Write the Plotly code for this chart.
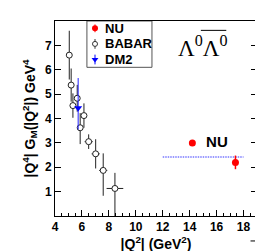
import plotly.graph_objects as go

# ---- data ----
babar_q2 = [5.06, 5.20, 5.33, 5.65, 5.87, 6.15, 6.50, 7.02, 7.58, 8.45]
babar_g = [6.60, 5.37, 4.53, 4.83, 3.62, 4.12, 3.05, 2.55, 1.87, 1.13]
babar_ey_plus = [1.00, 0.68, 0.50, 0.55, 0.60, 0.50, 0.30, 0.60, 0.70, 0.64]
babar_ey_minus = [1.00, 0.68, 0.50, 0.55, 0.67, 0.50, 0.30, 0.60, 1.04, 1.13]
babar_ex = [0.12, 0.12, 0.12, 0.12, 0.12, 0.12, 0.30, 0.30, 0.30, 0.62]

dm2_q2 = [5.72]
dm2_g = [4.43]
dm2_ey_plus = [1.23]
dm2_ey_minus = [0.88]

nu_q2 = [17.4]
nu_g = [2.20]
nu_ey = [0.28]

nu_label_q2 = [14.2]
nu_label_g = [3.0]

nu_line_q2 = [12.0, 18.0]
nu_line_g = [2.42, 2.42]

legend_labels = ["NU", "BABAR", "DM2"]
x_ticks = [4, 6, 8, 10, 12, 14, 16, 18]
y_ticks = [1, 2, 3, 4, 5, 6, 7]

FONT = "Liberation Sans"

fig = go.Figure()

fig.add_trace(go.Scatter(
    x=nu_line_q2, y=nu_line_g, mode="lines",
    line=dict(color="#7777ff", width=1.5, dash="1.5px,1px"),
    showlegend=False, hoverinfo="skip"))

fig.add_trace(go.Scatter(
    x=babar_q2, y=babar_g, mode="markers",
    marker=dict(symbol="circle", size=6, color="white",
                line=dict(color="#222222", width=1)),
    error_y=dict(type="data", symmetric=False, array=babar_ey_plus,
                 arrayminus=babar_ey_minus, color="#222222", thickness=1, width=0),
    error_x=dict(type="data", array=babar_ex, color="#222222", thickness=1, width=0),
    showlegend=False))

fig.add_trace(go.Scatter(
    x=dm2_q2, y=dm2_g, mode="markers",
    marker=dict(symbol="triangle-down", size=7, color="#0000ff"),
    error_y=dict(type="data", symmetric=False, array=dm2_ey_plus,
                 arrayminus=dm2_ey_minus, color="#2222ff", thickness=1, width=0),
    showlegend=False))

fig.add_trace(go.Scatter(
    x=nu_q2, y=nu_g, mode="markers",
    marker=dict(symbol="circle", size=7, color="#ff0000"),
    error_y=dict(type="data", array=nu_ey, color="#ff0000", thickness=1.5, width=0),
    showlegend=False))

fig.add_trace(go.Scatter(
    x=nu_label_q2, y=nu_label_g, mode="markers+text",
    marker=dict(symbol="circle", size=7, color="#ff0000"),
    text=["  NU"], textposition="middle right",
    textfont=dict(family=FONT, size=15, color="black", weight="bold"),
    showlegend=False))

# ---- manual legend (overlay axes in 0..1 units) ----
leg_y = [0.9625, 0.8825, 0.8025]
leg_x = 0.198
fig.add_trace(go.Scatter(
    x=[leg_x], y=[leg_y[0]], xaxis="x2", yaxis="y2", mode="markers",
    marker=dict(symbol="circle", size=6, color="#ff0000"),
    error_y=dict(type="constant", value=0.02, color="#ff0000", thickness=1, width=0),
    showlegend=False, hoverinfo="skip"))
fig.add_trace(go.Scatter(
    x=[leg_x], y=[leg_y[1]], xaxis="x2", yaxis="y2", mode="markers",
    marker=dict(symbol="circle", size=5, color="white",
                line=dict(color="#333333", width=1)),
    error_y=dict(type="constant", value=0.025, color="#333333", thickness=1, width=0),
    showlegend=False, hoverinfo="skip"))
fig.add_trace(go.Scatter(
    x=[leg_x], y=[leg_y[2]], xaxis="x2", yaxis="y2", mode="markers",
    marker=dict(symbol="triangle-down", size=6, color="#0000ff"),
    error_y=dict(type="constant", value=0.025, color="#0000ff", thickness=1, width=0),
    showlegend=False, hoverinfo="skip"))

annotations = []
for lab, yy in zip(legend_labels, leg_y):
    annotations.append(dict(
        x=0.236, y=yy, xref="paper", yref="paper", text=lab, showarrow=False,
        xanchor="left", yanchor="middle",
        font=dict(family=FONT, size=13, color="black", weight="bold")))

annotations.append(dict(
    x=0.597, y=0.868, xref="paper", yref="paper",
    text="Λ<sup>0</sup>Λ<sup>0</sup>", showarrow=False,
    xanchor="left", yanchor="middle",
    font=dict(family="Liberation Serif", size=23, color="black")))

shapes = [
    dict(type="rect", xref="paper", yref="paper", x0=0.158, x1=0.48, y0=0.7625, y1=1.0,
         line=dict(color="#555555", width=1), fillcolor="white", layer="below"),
    dict(type="line", xref="paper", yref="paper", x0=0.722, x1=0.848, y0=0.952, y1=0.952,
         line=dict(color="black", width=1)),
    dict(type="line", xref="paper", yref="paper", x0=0.968, x1=0.998, y0=-0.128, y1=-0.128,
         line=dict(color="black", width=1)),
]

fig.update_layout(
    width=263, height=251,
    margin=dict(l=47, r=14, t=12, b=39),
    paper_bgcolor="white", plot_bgcolor="rgba(0,0,0,0)",
    font=dict(family=FONT, color="black"),
    annotations=annotations, shapes=shapes,
    xaxis=dict(
        range=[4, 19], tickvals=x_ticks, ticks="inside", ticklen=6, tickwidth=1,
        tickcolor="black", showline=True, linecolor="black", linewidth=1, mirror=True,
        showgrid=False, zeroline=False,
        minor=dict(dtick=0.5, ticks="inside", ticklen=3, tickcolor="black", showgrid=False),
        tickfont=dict(family=FONT, size=12, weight="bold"),
        title=dict(text="|Q<sup>2</sup>| (GeV<sup>2</sup>)", standoff=3,
                   font=dict(family=FONT, size=14, weight="bold"))),
    yaxis=dict(
        range=[0, 8], tickvals=y_ticks, ticks="inside", ticklen=6, tickwidth=1,
        tickcolor="black", showline=True, linecolor="black", linewidth=1, mirror="ticks",
        showgrid=False, zeroline=False,
        tickfont=dict(family=FONT, size=12, weight="bold"),
        title=dict(text="|Q<sup>4</sup>| G<sub>M</sub>(|Q<sup>2</sup>|) GeV<sup>4</sup>",
                   standoff=6, font=dict(family=FONT, size=14, weight="bold"))),
    xaxis2=dict(range=[0, 1], overlaying="x", visible=False, fixedrange=True),
    yaxis2=dict(range=[0, 1], overlaying="y", visible=False, fixedrange=True),
)

fig.write_html("out.html")
